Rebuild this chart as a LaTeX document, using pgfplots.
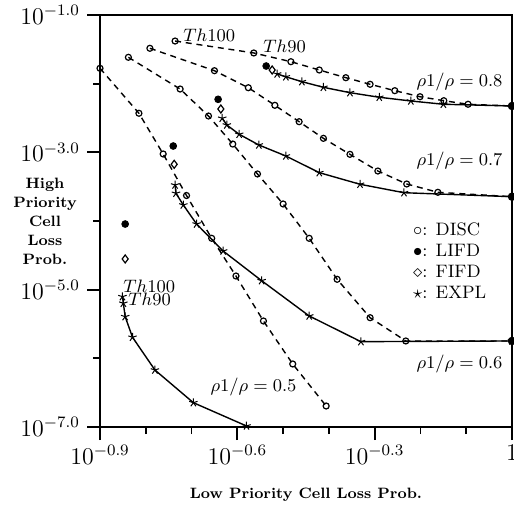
\documentclass[border=0pt]{standalone}
\usepackage{pgfplots}
\pgfplotsset{compat=1.18}

\begin{document}
\begin{tikzpicture}
\pgfplotsset{
  disc/.style={black, line width=0.7pt, dash pattern=on 3pt off 2.4pt,
    mark=o, mark size=1.5pt, mark options={solid, line width=0.6pt}},
  expl/.style={black, solid, line width=0.7pt,
    mark=star, mark size=2.2pt, mark options={solid, line width=0.5pt}},
  lifd/.style={only marks, mark=*, mark size=1.7pt, black},
  fifd/.style={only marks, mark=diamond, mark size=2pt, black, mark options={line width=0.6pt}},
}
\begin{axis}[
    name=ax,
    scale only axis,
    width=206pt, height=206pt,
    xmin=-0.9, xmax=0, ymin=-7, ymax=-1,
    clip=false,
    axis line style={line width=1pt},
    tick pos=left, tick align=outside,
    major tick length=6.5pt, minor tick length=3.5pt,
    every tick/.style={black, line width=0.9pt},
    xtick={-0.9,-0.6,-0.3,0},
    xticklabels={$10^{-0.9}$,$10^{-0.6}$,$10^{-0.3}$,$1$},
    minor xtick={-0.8,-0.7,-0.5,-0.4,-0.2,-0.1},
    ytick={-7,-5,-3,-1},
    yticklabels={$10^{-7.0}$,$10^{-5.0}$,$10^{-3.0}$,$10^{-1.0}$},
    minor ytick={-6,-4,-2},
    tick label style={font=\fontsize{12}{14}\selectfont},
    xticklabel style={yshift=1pt},
    xlabel={Low Priority Cell Loss Prob.},
    xlabel style={font=\fontsize{7.5}{9}\bfseries, yshift=-5pt},
]
% rho1/rho = 0.8
\addplot[disc] coordinates {
  (-0.736,-1.379) (-0.564,-1.553) (-0.483,-1.680) (-0.421,-1.801) (-0.363,-1.913)
  (-0.310,-2.009) (-0.256,-2.102) (-0.201,-2.190) (-0.149,-2.248) (-0.096,-2.300) (0,-2.325)
};
\addplot[expl, mark indices={1,2,3,4,5,6,7,8}] coordinates {
  (-0.513,-1.859) (-0.494,-1.900) (-0.459,-1.971) (-0.412,-2.053) (-0.354,-2.131)
  (-0.290,-2.198) (-0.221,-2.252) (-0.150,-2.300) (0,-2.325)
};
\addplot[lifd] coordinates {(-0.537,-1.743)};
\addplot[fifd] coordinates {(-0.524,-1.801)};
% rho1/rho = 0.7
\addplot[disc] coordinates {
  (-0.791,-1.485) (-0.650,-1.811) (-0.576,-2.059) (-0.518,-2.315) (-0.465,-2.554)
  (-0.412,-2.796) (-0.354,-3.029) (-0.293,-3.272) (-0.230,-3.461) (-0.162,-3.582) (0,-3.646)
};
\addplot[expl, mark indices={1,2,3,4,5,6,7,8}] coordinates {
  (-0.633,-2.504) (-0.623,-2.602) (-0.596,-2.737) (-0.553,-2.893) (-0.494,-3.053)
  (-0.421,-3.296) (-0.332,-3.465) (-0.236,-3.588) (0,-3.646)
};
\addplot[lifd] coordinates {(-0.642,-2.228)};
\addplot[fifd] coordinates {(-0.636,-2.369)};
% rho1/rho = 0.6
\addplot[disc] coordinates {
  (-0.838,-1.616) (-0.725,-2.078) (-0.663,-2.471) (-0.610,-2.879) (-0.556,-3.315)
  (-0.500,-3.752) (-0.443,-4.252) (-0.382,-4.849) (-0.310,-5.408) (-0.232,-5.747) (0,-5.747)
};
\addplot[expl, mark indices={1,2,3,4,5,6,7,8,9}] coordinates {
  (-0.736,-3.476) (-0.734,-3.597) (-0.718,-3.767) (-0.689,-4.044) (-0.631,-4.437)
  (-0.547,-4.869) (-0.443,-5.383) (-0.330,-5.757) (0,-5.747)
};
\addplot[lifd] coordinates {(-0.740,-2.908)};
\addplot[fifd] coordinates {(-0.738,-3.174)};
% rho1/rho = 0.5
\addplot[disc] coordinates {
  (-0.900,-1.776) (-0.815,-2.431) (-0.762,-3.024) (-0.711,-3.629) (-0.656,-4.252)
  (-0.603,-4.801) (-0.543,-5.456) (-0.479,-6.082) (-0.406,-6.694)
};
\addplot[expl] coordinates {
  (-0.851,-5.102) (-0.849,-5.198) (-0.845,-5.393) (-0.829,-5.693) (-0.780,-6.170)
  (-0.696,-6.646) (-0.580,-6.985)
};
\addplot[lifd] coordinates {(-0.845,-4.044)};
\addplot[fifd] coordinates {(-0.845,-4.553)};
% end points at the right edge
\addplot[only marks, mark=*, mark size=1.9pt, black] coordinates {
  (0,-2.325) (0,-3.646) (0,-5.747)
};

\coordinate (SW) at (rel axis cs:0,0);
\coordinate (NE) at (rel axis cs:1,1);

\begin{scope}[every node/.style={font=\fontsize{9}{10.5}\selectfont, inner sep=0pt}]
\node[anchor=east] at (axis cs:-0.020,-1.976) {$\rho1/\rho = 0.8$};
\node[anchor=east] at (axis cs:-0.020,-3.126) {$\rho1/\rho = 0.7$};
\node[anchor=east] at (axis cs:-0.020,-6.087) {$\rho1/\rho = 0.6$};
\node[anchor=east] at (axis cs:-0.470,-6.413) {$\rho1/\rho = 0.5$};
\node[anchor=west] at (axis cs:-0.719,-1.291) {$Th100$};
\node[anchor=west] at (axis cs:-0.544,-1.451) {$Th90$};
\node[anchor=west] at (axis cs:-0.850,-4.946) {$Th100$};
\node[anchor=west] at (axis cs:-0.839,-5.136) {$Th90$};
\node[anchor=north west, align=left] at (axis cs:-0.217,-4.014)
  {$\circ$: DISC\\ $\bullet$: LIFD\\ $\diamond$: FIFD\\ $\star$: EXPL};
\end{scope}
\node[font=\fontsize{7.5}{9.5}\bfseries\selectfont, align=center]
  at ([xshift=-27.5pt]rel axis cs:0,0.5) {High\\Priority\\Cell\\Loss\\Prob.};
\end{axis}
\pgfresetboundingbox
\path[use as bounding box] ([xshift=-50pt,yshift=-39.5pt]SW) rectangle ([xshift=1pt,yshift=7.5pt]NE);
\end{tikzpicture}
\end{document}
